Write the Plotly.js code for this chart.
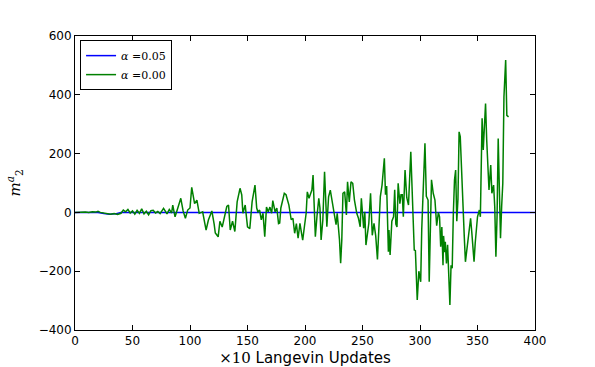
<!DOCTYPE html>
<html>
<head>
<meta charset="utf-8">
<script src="https://cdn.plot.ly/plotly-3.0.1.min.js"></script>
<style>html,body{margin:0;padding:0;background:#fff;}#chart{width:595px;height:367px;}</style>
</head>
<body>
<div id="chart"></div>
<script>
// Series alpha = 0.05 (flat near zero)
const blueX = [0, 20, 25, 30, 35, 40, 400];
const blueY = [0, 0, -4, -6, -5, 0, 0];

// Series alpha = 0.00
const greenX = [0,3,6,9,12,15,18,20,22,25,28,31,34,37,40,42,44,46,48,50,52,54,56,58,60,62,64,66,68,70,72,74,77,79,80,82,84,85,87,89,92,94,96,98,100,101.5,103,104,106,108,110,111,113,114,116,118,119,121,122,124.5,126,128,129,130,132,133.5,135,137,139,141,143.5,145,146,148,150,152,154,156.5,158,159,160.5,162,163.5,165,166.5,168,169.5,171,172,174,175.5,177,178,179,182,183.5,186,188,189.5,191,192.5,194,195.6,197,198,199.5,201,202,203.5,205,206,207,209,210.5,212,213,214,215.5,217,219,220.5,222,223.5,225,227,228,230,231,232,233,234.5,236,237,238.5,240,241.5,243,245,246.5,248,249,251,252,253,255.5,257,258.5,260,261.5,263,264.5,265.5,267,269,270,271,272.5,273,274,275.5,277,278,279,280,281,282.5,283.5,284.6,285.5,287,288.5,290,292,293.5,295,296,297.6,299,300.6,301.5,303,304.3,305.5,307,308,310,311.5,313,314.5,316,317,318,319,319.5,320,320.5,321.5,322,323,324,325,326,327,328,329,330,331,332,333,334,335,336,337,337.5,338.5,339.5,341,342.5,344,345,346,347,348,349,350,351.6,352.5,353,354,355,357,358,359,360,361.5,362.5,364,365,366,367,368,369,370,371,372,373,374.5,375.5,377];
const greenY = [0,1,0,1,0,2,1,4,0,-2,-5,-6,-4,-7,-3,8,2,10,-2,5,-6,7,-3,12,-5,4,-8,6,7,-2,3,-4,14,2,-5,10,-2,25,-15,10,48,5,-20,8,15,85,45,30,42,-3,0,2,-40,-60,-26,-5,5,-40,-70,-83,-30,-50,-35,-10,20,25,-60,-30,-65,36,82,60,-3,25,-49,-55,36,93,15,2,8,-25,-3,-83,18,2,18,-3,40,2,15,-38,-36,15,65,60,25,-25,-20,-71,-38,-88,-37,-71,-94,-48,-3,70,48,65,76,127,-83,-9,48,15,-94,-26,138,-49,53,76,42,-3,-42,-3,-94,-173,-94,65,70,-9,104,36,104,99,42,-3,-20,-49,48,-54,2,-111,-37,65,-78,-37,-80,-160,-20,54,93,184,60,90,-134,-60,-145,-30,-15,77,-40,-50,99,30,60,60,-15,144,50,25,206,30,-128,-130,-298,-200,-236,-60,144,235,55,42,-236,111,65,42,-45,0,-15,-117,-50,-90,-180,-80,-135,-100,-174,-110,-219,-315,-180,-190,-3,110,144,-30,45,274,258,144,93,19,-83,-168,-115,-83,-20,-66,-115,-168,-105,-66,-15,8,-15,99,320,212,370,246,155,76,161,65,93,19,-151,-15,251,20,-88,20,99,393,518,330,325];

const xTicks = [0,50,100,150,200,250,300,350,400];
const yTicks = [-400,-200,0,200,400,600];

const traces = [
  {x: blueX, y: blueY, type: 'scatter', mode: 'lines', name: '<i>α</i> =0.05',
   line: {color: '#0000ff', width: 1.5}},
  {x: greenX, y: greenY, type: 'scatter', mode: 'lines', name: '<i>α</i> =0.00',
   line: {color: '#008000', width: 1.5}}
];

const axisCommon = {
  showline: true, linecolor: '#000', linewidth: 1, mirror: 'allticks',
  ticks: 'inside', ticklen: 5, tickcolor: '#000', showgrid: false, zeroline: false,
  tickfont: {family: 'DejaVu Sans', size: 12, color: '#000'}
};

const layout = {
  width: 595, height: 367,
  margin: {l: 75, r: 60, t: 36, b: 37},
  paper_bgcolor: '#fff', plot_bgcolor: '#fff',
  showlegend: true,
  legend: {x: 0.011, y: 0.986, xanchor: 'left', yanchor: 'top',
    bordercolor: '#000', borderwidth: 1, bgcolor: '#fff', itemwidth: 30,
    font: {family: 'DejaVu Serif', size: 11, color: '#000'}, tracegroupgap: 0},
  xaxis: Object.assign({}, axisCommon, {range: [0, 400], tickvals: xTicks, ticktext: xTicks.map(String),
    title: {text: '<span style="font-family:DejaVu Serif">×10</span> Langevin Updates',
      font: {family: 'DejaVu Sans', size: 15, color: '#000'}, standoff: 6}}),
  yaxis: Object.assign({}, axisCommon, {range: [-400, 600], tickvals: yTicks,
    ticktext: yTicks.map(v => v < 0 ? '\u2212' + Math.abs(v) : String(v)),
    title: {text: '<i>m</i><sup><i>a</i></sup><sub>2</sub>',
      font: {family: 'DejaVu Serif', size: 15, color: '#000'}, standoff: 14}})
};

Plotly.newPlot('chart', traces, layout, {displayModeBar: false, staticPlot: true});
</script>
</body>
</html>
